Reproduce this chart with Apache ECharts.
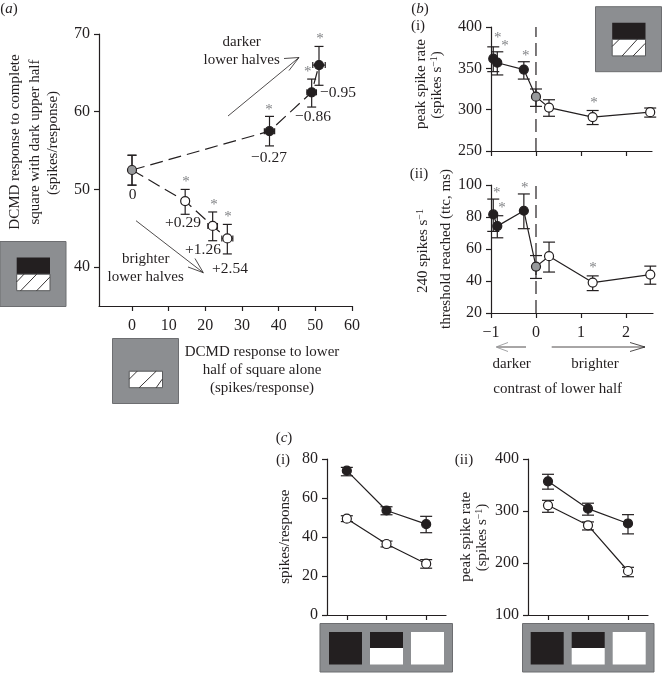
<!DOCTYPE html>
<html><head><meta charset="utf-8">
<style>html,body{margin:0;padding:0;background:#fff}#c{width:662px;height:673px}</style>
<script src="https://cdn.jsdelivr.net/npm/echarts@6/dist/echarts.min.js"></script>
</head><body><div id="c"></div>
<script>
// ---- data ----
// (a) x = response to lower half alone, y = response to complete square
const aContrastLabels = ['0','+0.29','+1.26','+2.54','\u22120.27','\u22120.86','\u22120.95'];
const aDarkX    = [0, 37.5, 49, 51];
const aDarkY    = [52.5, 57.5, 62.5, 66];
const aDarkYLo  = [50.55, 55.6, 60.6, 63.4];
const aDarkYHi  = [54.4, 59.4, 64.2, 68.4];
const aDarkXErr = [0, 1.4, 1.3, 1.7];
const aBrightX    = [0, 14.5, 22, 26];
const aBrightY    = [52.5, 48.5, 45.3, 43.7];
const aBrightYLo  = [50.55, 46.8, 43.4, 41.7];
const aBrightYHi  = [54.4, 50, 47.1, 45.5];
const aBrightXErr = [0, 1, 1.3, 1.5];
// (b) contrast of lower half
const bContrast = [-0.95, -0.86, -0.27, 0, 0.29, 1.26, 2.54];
const biRate    = [361.7, 356.8, 348.5, 315.7, 302.5, 291, 297];
const biRateLo  = [346, 342, 337, 304, 292, 282, 291];
const biRateHi  = [376, 370, 358, 325, 312, 299, 302];
const biiTtc    = [81.6, 74.3, 83.9, 49, 55.5, 39, 44];
const biiTtcLo  = [71, 67, 72.7, 41.6, 45.6, 34, 38];
const biiTtcHi  = [91.2, 80.8, 94.4, 55.9, 64.3, 43.2, 49.3];
// (c)
const cStimuli = ['dark', 'half', 'white'];
const ciDark      = [74, 53.6, 46.6];
const ciDarkLo    = [71.4, 51.4, 42.2];
const ciDarkHi    = [75.7, 55.5, 50.6];
const ciOpen      = [49.4, 36.4, 26.3];
const ciOpenLo    = [47.9, 34.9, 24];
const ciOpenHi    = [50.9, 37.9, 28.4];
const ciiDark     = [357, 304.5, 276];
const ciiDarkLo   = [342, 292, 256];
const ciiDarkHi   = [370.6, 315, 293];
const ciiOpen     = [311, 272.5, 184.6];
const ciiOpenLo   = [297.5, 263.5, 173.6];
const ciiOpenHi   = [320.5, 279, 191.7];
// tick labels
const aXTicks = [0,10,20,30,40,50,60];
const aYTicks = [40,50,60,70];
const bXTicks = [-1,0,1,2];

// ---- style ----
const INK = '#231f20', GREY = '#97999b', BOX = '#8c8e91', STAR = '#808285';
const SERIF = '"Liberation Serif","Times New Roman",serif';
const YLABEL = {show:true,color:INK,fontFamily:SERIF,fontSize:16,margin:9};
const XLABEL = {show:true,color:INK,fontFamily:SERIF,fontSize:16,margin:12};

function axisBase(extra){
  return Object.assign({
    axisLine:{show:true,onZero:false,lineStyle:{color:INK,width:1.2}},
    axisTick:{show:true,length:5,lineStyle:{color:INK,width:1.2}},
    splitLine:{show:false},
    axisLabel:YLABEL
  },extra);
}
function errSeries(gi,rows,cap){
  return {type:'custom',xAxisIndex:gi,yAxisIndex:gi,z:3,silent:true,
    data:rows,encode:{x:0,y:1},
    renderItem(p,api){
      const x=api.value(0),y=api.value(1),lo=api.value(2),hi=api.value(3),xe=api.value(4);
      const a=api.coord([x,lo]),b=api.coord([x,hi]);
      const st={stroke:INK,lineWidth:1.2,fill:null};
      const kids=[
        {type:'line',shape:{x1:a[0],y1:a[1],x2:b[0],y2:b[1]},style:st},
        {type:'line',shape:{x1:a[0]-cap,y1:a[1],x2:a[0]+cap,y2:a[1]},style:st},
        {type:'line',shape:{x1:b[0]-cap,y1:b[1],x2:b[0]+cap,y2:b[1]},style:st}];
      if(xe>0){
        const l=api.coord([x-xe,y]),r=api.coord([x+xe,y]);
        kids.push({type:'line',shape:{x1:l[0],y1:l[1],x2:r[0],y2:r[1]},style:st},
          {type:'line',shape:{x1:l[0],y1:l[1]-3,x2:l[0],y2:l[1]+3},style:st},
          {type:'line',shape:{x1:r[0],y1:r[1]-3,x2:r[0],y2:r[1]+3},style:st});
      }
      return {type:'group',children:kids};
    }};
}
function lineSeries(gi,pts,dash){
  return {type:'line',xAxisIndex:gi,yAxisIndex:gi,z:2,symbol:'none',silent:true,data:pts,
    lineStyle:{color:INK,width:1.2,type:dash?[13,6]:'solid'}};
}
function dots(gi,pts,fill,size){
  return {type:'scatter',xAxisIndex:gi,yAxisIndex:gi,z:4,silent:true,data:pts,symbolSize:size,
    itemStyle:{color:fill,borderColor:INK,borderWidth:1.2,opacity:1}};
}
const zip=(...a)=>a[0].map((_,i)=>a.map(c=>c[i]));

// ---- grids ----
const grid=[
  {left:99,top:34,width:253,height:272},
  {left:491,top:27,width:161,height:124},
  {left:491,top:185,width:162,height:128},
  {left:327,top:459,width:119,height:156},
  {left:528,top:459,width:120,height:156}
];
const xTick=(vals)=>({show:true,length:5,customValues:vals,lineStyle:{color:INK,width:1.2}});
const xAxis=[
  axisBase({gridIndex:0,type:'value',min:-9,max:60,axisTick:xTick(aXTicks),
    axisLabel:Object.assign({},XLABEL,{customValues:aXTicks})}),
  axisBase({gridIndex:1,type:'value',min:-1,max:2.58,axisTick:xTick(bXTicks),axisLabel:{show:false}}),
  axisBase({gridIndex:2,type:'value',min:-1,max:2.6,axisTick:xTick(bXTicks),
    axisLabel:Object.assign({},XLABEL,{customValues:bXTicks,formatter:v=>String(v).replace('-','\u2212')})}),
  axisBase({gridIndex:3,type:'category',data:cStimuli,axisTick:{show:true,alignWithLabel:true,length:5,lineStyle:{color:INK,width:1.2}},axisLabel:{show:false}}),
  axisBase({gridIndex:4,type:'category',data:cStimuli,axisTick:{show:true,alignWithLabel:true,length:5,lineStyle:{color:INK,width:1.2}},axisLabel:{show:false}})
];
const yAxis=[
  axisBase({gridIndex:0,type:'value',min:35,max:70,axisTick:xTick(aYTicks),
    axisLabel:Object.assign({},YLABEL,{customValues:aYTicks})}),
  axisBase({gridIndex:1,type:'value',min:250,max:400,interval:50}),
  axisBase({gridIndex:2,type:'value',min:20,max:100,interval:20}),
  axisBase({gridIndex:3,type:'value',min:0,max:80,interval:20}),
  axisBase({gridIndex:4,type:'value',min:100,max:400,interval:100})
];

// ---- series ----
const bFill=p=>{const x=p.value[0];return x<0?INK:(x===0?GREY:'#fff');};
const catIdx=[0,1,2];
const series=[
  lineSeries(0,zip(aDarkX,aDarkY),true),
  lineSeries(0,zip(aBrightX,aBrightY),true),
  errSeries(0,zip(aDarkX,aDarkY,aDarkYLo,aDarkYHi,aDarkXErr),4.5),
  errSeries(0,zip(aBrightX,aBrightY,aBrightYLo,aBrightYHi,aBrightXErr),4.5),
  dots(0,zip(aDarkX,aDarkY).slice(1),INK,9),
  dots(0,zip(aBrightX,aBrightY).slice(1),'#fff',9),
  dots(0,[[aDarkX[0],aDarkY[0]]],GREY,9),

  lineSeries(1,zip(bContrast,biRate),false),
  errSeries(1,zip(bContrast,biRate,biRateLo,biRateHi,bContrast.map(()=>0)),6),
  dots(1,zip(bContrast,biRate),bFill,9),
  lineSeries(1,[[0,250],[0,400]],true),

  lineSeries(2,zip(bContrast,biiTtc),false),
  errSeries(2,zip(bContrast,biiTtc,biiTtcLo,biiTtcHi,bContrast.map(()=>0)),6),
  dots(2,zip(bContrast,biiTtc),bFill,9),
  lineSeries(2,[[0,20],[0,100]],true),

  lineSeries(3,zip(catIdx,ciDark),false),
  lineSeries(3,zip(catIdx,ciOpen),false),
  errSeries(3,zip(catIdx,ciDark,ciDarkLo,ciDarkHi,catIdx.map(()=>0)),6),
  errSeries(3,zip(catIdx,ciOpen,ciOpenLo,ciOpenHi,catIdx.map(()=>0)),6),
  dots(3,zip(catIdx,ciDark),INK,9),
  dots(3,zip(catIdx,ciOpen),'#fff',9),

  lineSeries(4,zip(catIdx,ciiDark),false),
  lineSeries(4,zip(catIdx,ciiOpen),false),
  errSeries(4,zip(catIdx,ciiDark,ciiDarkLo,ciiDarkHi,catIdx.map(()=>0)),6),
  errSeries(4,zip(catIdx,ciiOpen,ciiOpenLo,ciiOpenHi,catIdx.map(()=>0)),6),
  dots(4,zip(catIdx,ciiDark),INK,9),
  dots(4,zip(catIdx,ciiOpen),'#fff',9)
];

// ---- annotations ----
const g=[];
const RICH={i:{fontStyle:'italic',fontFamily:SERIF,fontSize:15,fill:INK,color:INK},
  r:{fontFamily:SERIF,fontSize:15,fill:INK,color:INK},
  sup:{fontFamily:SERIF,fontSize:10,fill:INK,color:INK,verticalAlign:'top',lineHeight:14}};
function txt(s,x,y,size,rot,extra){
  g.push({type:'text',x,y,rotation:rot?Math.PI/2:0,z:10,silent:true,
    style:Object.assign({text:s,font:(size||15)+'px '+SERIF,fill:INK,align:'center',verticalAlign:'middle',rich:RICH},extra||{})});
}
function star(x,y){ txt('*',x,y+3,15,false,{fill:STAR}); }
function poly(pts,color,w){
  g.push({type:'polyline',z:6,silent:true,shape:{points:pts},style:{stroke:color,lineWidth:w||0.8,fill:null}});
}
function rect(x,y,w,h,fill,stroke){
  g.push({type:'rect',z:5,silent:true,shape:{x,y,width:w,height:h},style:{fill,stroke:stroke||null,lineWidth:stroke?1:0}});
}
function hatchIcon(x,y,hasTop,lines){
  rect(x,y,66,65,BOX,'#6d6e71');
  const ix=x+16.7, iy=y+16;
  if(hasTop) rect(ix,iy,33.3,16.7,INK);
  const hy=iy+16.7;
  rect(ix,hy,33.3,16.5,'#fff','#58595b');
  lines.forEach(l=>poly([[ix+l[0],hy+l[1]],[ix+l[2],hy+l[3]]],INK,0.9));
}
hatchIcon(0,241.5,true,[[0,7.7,7.3,0],[4,16.5,20,0],[20,16.5,33,3]]);
hatchIcon(112.5,338.5,false,[[0,8,8,0],[10,16.5,27,0],[27,16.5,33,8]]);
hatchIcon(595.5,6.7,true,[[0,7,7,0],[10,16.5,25,0],[21,16.5,33,4]]);
function stimStrip(x0,w,s1,s2,s3){
  rect(x0,623.5,w,48.5,BOX,'#6d6e71');
  rect(s1,632,33,32.5,INK);
  rect(s2,632,33,16,INK); rect(s2,648,33,16.5,'#fff');
  rect(s3,632,33,32.5,'#fff');
}
stimStrip(320,132.5,329,370,411);
stimStrip(522.5,131.5,530.7,571.7,612.7);

// arrows
poly([[228,116],[299,57.5]],INK);
poly([[284,58.5],[299,57.5],[289,70.5]],INK);
poly([[136,220.7],[203.3,272.7]],INK);
poly([[188,267],[203.3,272.7],[195,258.5]],INK);
poly([[526,347],[497,347]],INK);
poly([[508,342.5],[496,347],[508,351.5]],GREY,0.9);
poly([[551.7,347],[645,347]],INK);
poly([[630,342.5],[645,347],[630,351.5]],INK);

// panel letters
const TAG=(l)=>'{r|(}{i|'+l+'}{r|)}';
txt(TAG('a'),9,9);
txt(TAG('b'),420,9);
txt('(i)',418,26);
txt('(ii)',419,174);
txt(TAG('c'),284,438);
txt('(i)',283,460);
txt('(ii)',464,460);

// panel (a) text
txt('DCMD response to complete',15,142,15,true);
txt('square with dark upper half',35,142,15,true);
txt('(spikes/response)',53,143,15,true);
txt('DCMD response to lower',262,352);
txt('half of square alone',262,370);
txt('(spikes/response)',262,388);
txt('darker',241.7,42); txt('lower halves',241.7,60);
txt('brighter',145.7,259); txt('lower halves',145.7,277);
const aLabelPos=[[132.7,195],[183,223],[203,250],[230,268.7],[269,158],[313,116.7],[338,93]];
aContrastLabels.forEach((s,i)=>txt(s,aLabelPos[i][0],aLabelPos[i][1],15.5));
[[320,36],[307.7,69],[269,106.7],[186,179],[214,202],[228,214]].forEach(p=>star(p[0],p[1]));

// panel (b) text
txt('peak spike rate',420.7,84,15,true);
txt('(spikes s{sup|\u22121})',437,85,15,true);
txt('threshold reached (ttc, ms)',445.7,249,15,true);
txt('240 spikes s{sup|\u22121}',422.7,251,15,true);
[[497.7,35],[505,43],[525.7,52.7],[594,100],[496.7,190],[502,205],[524.7,184.7],[593,265]].forEach(p=>star(p[0],p[1]));
txt('darker',511.7,364); txt('brighter',595,364);
txt('contrast of lower half',557.7,389.3);

// panel (c) text
txt('spikes/response',285,536.7,15,true);
txt('peak spike rate',465.7,536.7,15,true);
txt('(spikes s{sup|\u22121})',481.7,537.5,15,true);

echarts.init(document.getElementById('c'),null,{renderer:'canvas'}).setOption({
  animation:false,backgroundColor:'#fff',grid,xAxis,yAxis,series,graphic:g,tooltip:{show:false},legend:{show:false}
});
</script></body></html>
